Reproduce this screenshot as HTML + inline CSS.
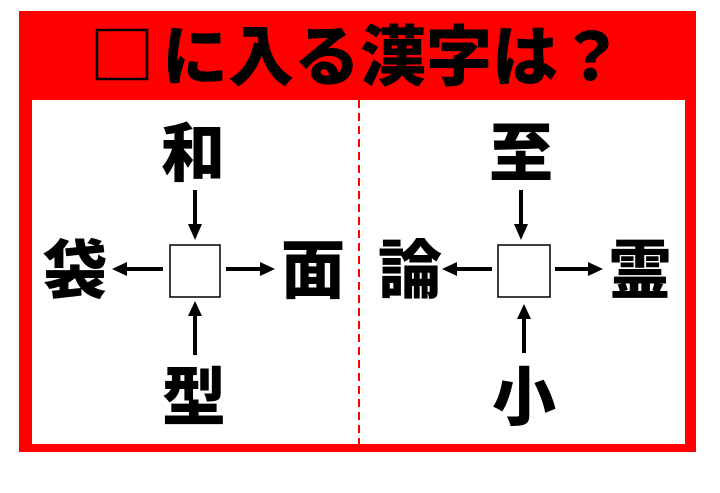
<!DOCTYPE html>
<html><head><meta charset="utf-8"><style>
html,body{margin:0;padding:0;background:#fff;width:720px;height:493px;overflow:hidden}
text{font-family:"Liberation Sans","Noto Sans CJK JP",sans-serif;font-weight:900}
</style></head><body>
<svg width="720" height="493" viewBox="0 0 720 493" xmlns="http://www.w3.org/2000/svg">
<rect x="19" y="11" width="677" height="441" fill="#f00"/>
<rect x="32" y="100" width="653" height="344" fill="#fff"/>
<line x1="359" y1="100" x2="359" y2="444" stroke="#f00" stroke-width="2" stroke-dasharray="8,5"/>
<rect x="97" y="30" width="50" height="49" fill="none" stroke="#000" stroke-width="2.5"/>
<text x="162" y="80" font-size="66">に入る漢字は？</text>
<g font-size="64" text-anchor="middle">
<text x="193" y="176">和</text>
<text x="75" y="293">袋</text>
<text x="313" y="293">面</text>
<text x="194" y="420">型</text>
<text x="521" y="176">至</text>
<text x="410" y="293">論</text>
<text x="640" y="293">霊</text>
<text x="524" y="420">小</text>
</g>
<rect x="170" y="245" width="50" height="52" fill="#fff" stroke="#000" stroke-width="1.5"/>
<rect x="498" y="245" width="52" height="52" fill="#fff" stroke="#000" stroke-width="1.5"/>
<g stroke="#000" stroke-width="4">
<line x1="195" y1="190" x2="195" y2="228"/>
<line x1="163" y1="269" x2="125" y2="269"/>
<line x1="226" y1="269" x2="262" y2="269"/>
<line x1="195" y1="355" x2="195" y2="313"/>
<line x1="492" y1="269" x2="455" y2="269"/>
<line x1="555" y1="269" x2="590" y2="269"/>
<line x1="524" y1="353" x2="524" y2="316"/>
<line x1="521" y1="190" x2="521" y2="228"/>
</g>
<g fill="#000">
<polygon points="188,224 202,224 195,240"/>
<polygon points="127,262 127,276 112,269"/>
<polygon points="260,262 260,276 275,269"/>
<polygon points="188,316 202,316 195,301"/>
<polygon points="457,262 457,276 442,269"/>
<polygon points="588,262 588,276 603,269"/>
<polygon points="517,319 531,319 524,304"/>
<polygon points="514,224 528,224 521,240"/>
</g>
</svg>
</body></html>
